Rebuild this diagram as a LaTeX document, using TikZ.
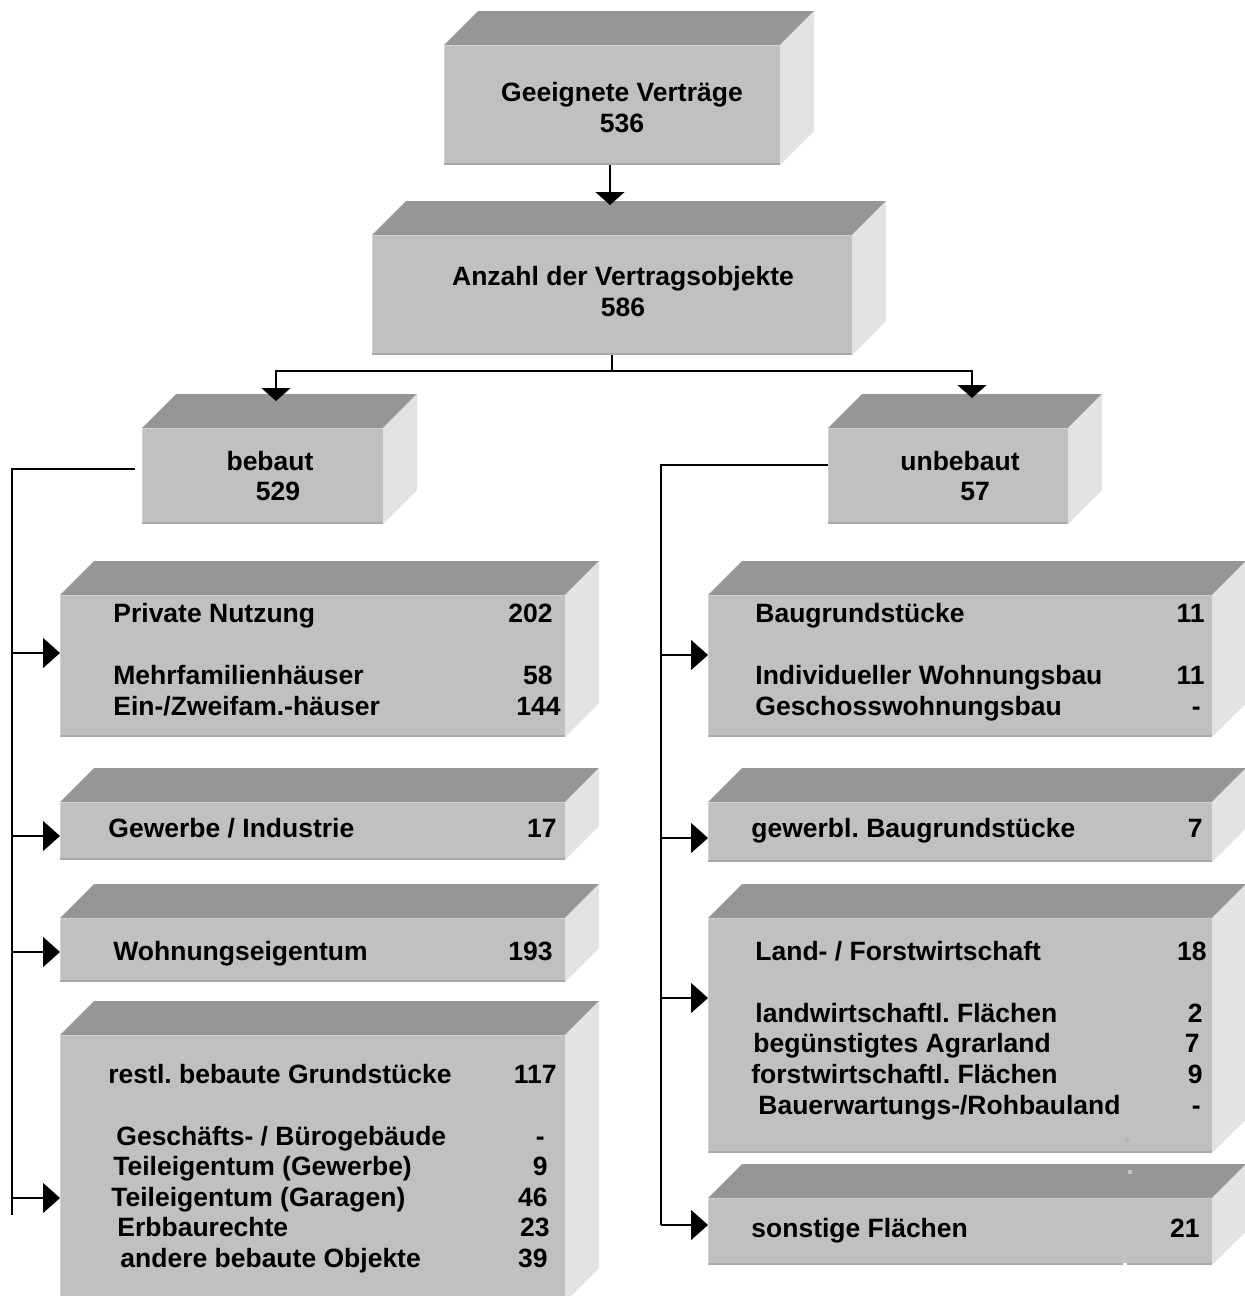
\documentclass[tikz,border=0pt]{standalone}
\usepackage{fontspec}
\setmainfont{Liberation Sans}
\usetikzlibrary{arrows.meta,fit,calc}
\frenchspacing
\definecolor{topc}{HTML}{969696}
\definecolor{frontc}{HTML}{C0C0C0}
\definecolor{sidec}{HTML}{E3E3E3}
\definecolor{edgec}{HTML}{A8A8A8}
\definecolor{litec}{HTML}{D2D2D2}
\tikzset{
  frontface/.style={fill=frontc, inner sep=0pt, outer sep=0pt, draw=none},
  lbl/.style={font=\frenchspacing\bfseries\fontsize{13.25}{15.5}\selectfont, inner sep=0pt, anchor=base west},
  num/.style={font=\bfseries\fontsize{13.25}{15.5}\selectfont, inner sep=0pt, anchor=base east},
  ctr/.style={font=\bfseries\fontsize{13.25}{15.5}\selectfont, inner sep=0pt, anchor=base},
  conn/.style={draw=black, line width=0.7pt},
  downarrow/.style={conn, -{Triangle[width=14.5pt,length=6.5pt]}},
  sidearrow/.style={conn, -{Triangle[width=15pt,length=8.5pt]}},
}
% name, x1, y1 (top), x2, y2 (bottom)
\newcommand\blk[5]{%
  \fill[topc] (#2,#3) -- ({#2+34},{#3-34}) -- ({#4+34},{#3-34}) -- (#4,#3) -- cycle;
  \fill[sidec] (#4,#3) -- ({#4+34},{#3-34}) -- ({#4+34},{#5-34}) -- (#4,#5) -- cycle;
  \node[frontface, fit={(#2,#3)(#4,#5)}] (#1) {};
  \draw[litec, line width=0.5pt] ({#2+0.5},#5) -- ({#2+0.5},{#3+0.5}) -- (#4,{#3+0.5});
  \draw[edgec, line width=1pt] (#2,{#5-1}) -- (#4,{#5-1});
}
\begin{document}
\begin{tikzpicture}[x=0.5pt,y=-0.5pt]
\useasboundingbox (0,0) rectangle (1245,1296);
\fill[white] (0,0) rectangle (1245,1296);

% blocks
\blk{geeig}{444}{45}{780}{165}
\blk{anzahl}{372}{235}{852}{355}
\blk{bebaut}{142}{428}{383}{524}
\blk{unbebaut}{828}{428}{1068}{524}
\blk{priv}{60}{595}{565}{737}
\blk{gew}{60}{802}{565}{860}
\blk{weig}{60}{918}{565}{982}
\blk{restl}{60}{1035}{565}{1302}
\blk{baugr}{708}{595}{1212}{737}
\blk{gewbau}{708}{802}{1212}{862}
\blk{land}{708}{918}{1212}{1153}
\blk{sonst}{708}{1198}{1212}{1265}

% tiny specks
\fill[gray!60] (1125,1138) rectangle (1129,1142);
\fill[gray!45] (1128,1170) rectangle (1132,1174);
\fill[white] (1123,1263) rectangle (1127,1267);

% texts
\node[ctr] (t1) at (622,101.5) {Geeignete Verträge};
\node[ctr] (t2) at (622,132.5) {536};
\node[ctr] (t3) at (623,285.5) {Anzahl der Vertragsobjekte};
\node[ctr] (t4) at (623,316.5) {586};
\node[ctr] (t5) at (270,470.5) {bebaut};
\node[ctr] (t6) at (278,500.5) {529};
\node[ctr] (t7) at (960,470.5) {unbebaut};
\node[ctr] (t8) at (975,500.5) {57};

\node[lbl] (p1) at (113,622.5) {Private Nutzung};
\node[num] (p1n) at (553,622.5) {202};
\node[lbl] (p2) at (113,684.5) {Mehrfamilienhäuser};
\node[num] (p2n) at (553,684.5) {58};
\node[lbl] (p3) at (113,715.5) {Ein-/Zweifam.-häuser};
\node[num] (p3n) at (561,715.5) {144};

\node[lbl] (g1) at (108,837.5) {Gewerbe / Industrie};
\node[num] (g1n) at (557,837.5) {17};

\node[lbl] (w1) at (113,960.5) {Wohnungseigentum};
\node[num] (w1n) at (553,960.5) {193};

\node[lbl] (r1) at (108,1083.5) {restl.\ bebaute Grundstücke};
\node[num] (r1n) at (557,1083.5) {117};
\node[lbl] (r2) at (116,1145.5) {Geschäfts- / Bürogebäude};
\node[num] (r2n) at (545,1145.5) {-};
\node[lbl] (r3) at (113,1175.5) {Teileigentum (Gewerbe)};
\node[num] (r3n) at (548,1175.5) {9};
\node[lbl] (r4) at (111,1206.5) {Teileigentum (Garagen)};
\node[num] (r4n) at (548,1206.5) {46};
\node[lbl] (r5) at (117,1236.5) {Erbbaurechte};
\node[num] (r5n) at (550,1236.5) {23};
\node[lbl] (r6) at (120,1267.5) {andere bebaute Objekte};
\node[num] (r6n) at (548,1267.5) {39};

\node[lbl] (b1) at (755,622.5) {Baugrundstücke};
\node[num] (b1n) at (1205,622.5) {11};
\node[lbl] (b2) at (755,684.5) {Individueller Wohnungsbau};
\node[num] (b2n) at (1205,684.5) {11};
\node[lbl] (b3) at (755,715.5) {Geschosswohnungsbau};
\node[num] (b3n) at (1201,715.5) {-};

\node[lbl] (gb1) at (751,837.5) {gewerbl.\ Baugrundstücke};
\node[num] (gb1n) at (1203,837.5) {7};

\node[lbl] (l1) at (755,960.5) {Land- / Forstwirtschaft};
\node[num] (l1n) at (1207,960.5) {18};
\node[lbl] (l2) at (755,1022.5) {landwirtschaftl.\ Flächen};
\node[num] (l2n) at (1203,1022.5) {2};
\node[lbl] (l3) at (753,1052.5) {begünstigtes Agrarland};
\node[num] (l3n) at (1200,1052.5) {7};
\node[lbl] (l4) at (751,1083.5) {forstwirtschaftl.\ Flächen};
\node[num] (l4n) at (1203,1083.5) {9};
\node[lbl] (l5) at (758,1114.5) {Bauerwartungs-/Rohbauland};
\node[num] (l5n) at (1201,1114.5) {-};

\node[lbl] (s1) at (751,1237.5) {sonstige Flächen};
\node[num] (s1n) at (1200,1237.5) {21};

% connectors
\draw[downarrow] (geeig.south -| 610,0) -- ($(anzahl.north -| 610,0)+(0,-30)$);

\coordinate (split) at (612,371);
\coordinate (lsplit) at (276,371);
\coordinate (rsplit) at (972,371);
\draw[conn] (anzahl.south -| split) -- (split);
\draw[downarrow] (split) -- (lsplit) -- ($(bebaut.north -| lsplit)+(0,-27)$);
\draw[downarrow] (split) -- (rsplit) -- ($(unbebaut.north -| rsplit)+(0,-30)$);

% left trunk
\coordinate (lt) at (12,469);
\coordinate (lb) at (12,1215);
\draw[conn] (135,469) -- (lt) -- (lb);
\coordinate (la1) at (12,653);
\coordinate (la2) at (12,836);
\coordinate (la3) at (12,952);
\coordinate (la4) at (12,1198);
\draw[sidearrow] (la1) -- (priv.west |- la1);
\draw[sidearrow] (la2) -- (gew.west |- la2);
\draw[sidearrow] (la3) -- (weig.west |- la3);
\draw[sidearrow] (la4) -- (restl.west |- la4);

% right trunk
\coordinate (rt) at (661,465);
\coordinate (rb) at (661,1225);
\coordinate (ra1) at (661,655);
\coordinate (ra2) at (661,838);
\coordinate (ra3) at (661,998);
\draw[conn] (unbebaut.west |- rt) -- (rt) -- (rb);
\draw[sidearrow] (rb) -- (sonst.west |- rb);
\draw[sidearrow] (ra1) -- (baugr.west |- ra1);
\draw[sidearrow] (ra2) -- (gewbau.west |- ra2);
\draw[sidearrow] (ra3) -- (land.west |- ra3);
\end{tikzpicture}
\end{document}
